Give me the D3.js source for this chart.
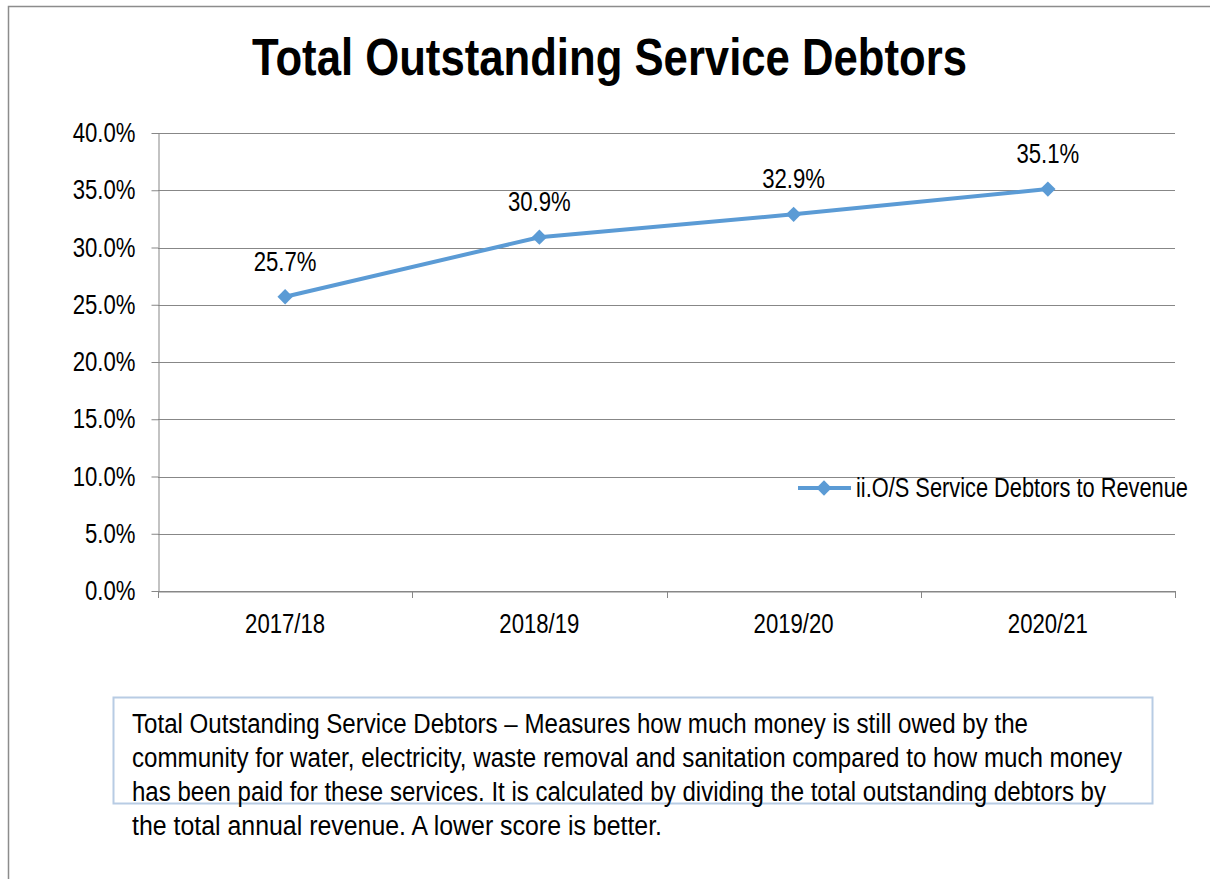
<!DOCTYPE html>
<html>
<head>
<meta charset="utf-8">
<script src="https://cdn.jsdelivr.net/npm/d3@7"></script>
<style>
  html, body { margin: 0; padding: 0; background: #fff; }
  svg { display: block; font-family: "Liberation Sans Narrow", "Arial Narrow", "Liberation Sans", Arial, sans-serif; }
</style>
</head>
<body>
<svg id="chart" width="1210" height="879"></svg>
<script>
// Financial year periods and the ratio of outstanding service debtors to revenue
const categories = ["2017/18", "2018/19", "2019/20", "2020/21"];
const ratioValues = [0.257, 0.309, 0.329, 0.351];
const yTickValues = [0, 0.05, 0.10, 0.15, 0.20, 0.25, 0.30, 0.35, 0.40];
const seriesName = "ii.O/S Service Debtors to Revenue";
const chartTitle = "Total Outstanding Service Debtors";
const noteLines = [
  "Total Outstanding Service Debtors \u2013 Measures how much money is still owed by the",
  "community for water, electricity, waste removal and sanitation compared to how much money",
  "has been paid for these services. It is calculated by dividing the total outstanding debtors by",
  "the total annual revenue. A lower score is better."
];

const svg = d3.select("#chart");
const lineColor = "#5b9bd5";
const gridColor = "#878787";

// Condense text horizontally to a narrow face when no narrow font is installed
const NARROW = 0.82;
function narrow(sel) {
  sel.each(function () {
    const w = this.getComputedTextLength();
    d3.select(this).attr("textLength", w * NARROW).attr("lengthAdjust", "spacingAndGlyphs");
  });
}

// Outer chart frame (top and left edges visible)
svg.append("path")
  .attr("d", "M8.5,879 V6.5 H1210")
  .attr("fill", "none")
  .attr("stroke", "#8c8c8c")
  .attr("stroke-width", 1.5);

// Title
svg.append("text")
  .attr("x", 609.5).attr("y", 75)
  .attr("text-anchor", "middle")
  .attr("font-size", 52).attr("font-weight", "bold")
  .attr("textLength", 715).attr("lengthAdjust", "spacingAndGlyphs")
  .text(chartTitle);

const plot = { left: 158, right: 1175, top: 133, bottom: 591 };

const x = d3.scaleBand().domain(categories).range([plot.left, plot.right]);
const y = d3.scaleLinear().domain([0, 0.40]).range([plot.bottom, plot.top]);

// Horizontal gridlines
svg.append("g")
  .selectAll("line")
  .data(yTickValues)
  .join("line")
  .attr("x1", plot.left).attr("x2", plot.right)
  .attr("y1", d => Math.round(y(d)) + 0.5).attr("y2", d => Math.round(y(d)) + 0.5)
  .attr("stroke", gridColor).attr("stroke-width", 1);

// Y axis
const yAxis = svg.append("g")
  .attr("transform", `translate(${plot.left + 0.5},0)`)
  .call(d3.axisLeft(y).tickValues(yTickValues).tickFormat(d3.format(".1%")).tickSize(7).tickPadding(16).tickSizeOuter(0));
yAxis.select(".domain").attr("stroke", gridColor);
yAxis.selectAll(".tick line").attr("stroke", gridColor);
yAxis.selectAll(".tick text").attr("font-size", 27).attr("fill", "#000").attr("font-family", null).call(narrow);

// X axis: labels at band centres, tick marks at band boundaries
const xAxis = svg.append("g")
  .attr("transform", `translate(0,${plot.bottom + 0.5})`)
  .call(d3.axisBottom(x).tickSize(0).tickPadding(22).tickSizeOuter(0));
xAxis.select(".domain").attr("stroke", gridColor);
xAxis.selectAll(".tick text").attr("font-size", 27).attr("fill", "#000").attr("font-family", null).call(narrow);

const boundaries = categories.map(c => x(c)).concat([x(categories[categories.length - 1]) + x.bandwidth()]);
svg.append("g")
  .selectAll("line")
  .data(boundaries)
  .join("line")
  .attr("x1", d => Math.round(d) + 0.5).attr("x2", d => Math.round(d) + 0.5)
  .attr("y1", plot.bottom).attr("y2", plot.bottom + 7)
  .attr("stroke", gridColor);

// Series line
const points = categories.map((c, i) => ({ cat: c, value: ratioValues[i] }));
const cx = d => x(d.cat) + x.bandwidth() / 2;

svg.append("path")
  .datum(points)
  .attr("fill", "none")
  .attr("stroke", lineColor)
  .attr("stroke-width", 4)
  .attr("stroke-linejoin", "round")
  .attr("d", d3.line().x(cx).y(d => y(d.value)));

const diamond = d3.symbol().type(d3.symbolDiamond2).size(150);

svg.append("g")
  .selectAll("path")
  .data(points)
  .join("path")
  .attr("transform", d => `translate(${cx(d)},${y(d.value)})`)
  .attr("d", diamond)
  .attr("fill", lineColor);

// Value labels
svg.append("g")
  .selectAll("text")
  .data(points)
  .join("text")
  .attr("x", cx)
  .attr("y", d => y(d.value) - 26)
  .attr("text-anchor", "middle")
  .attr("font-size", 27)
  .text(d => d3.format(".1%")(d.value))
  .call(narrow);

// Legend
const legend = svg.append("g").attr("transform", "translate(798,488)");
legend.append("line")
  .attr("x1", 0).attr("x2", 53).attr("y1", 0).attr("y2", 0)
  .attr("stroke", lineColor).attr("stroke-width", 4);
legend.append("path")
  .attr("transform", "translate(26,0)")
  .attr("d", diamond)
  .attr("fill", lineColor);
legend.append("text")
  .attr("x", 58).attr("y", 9)
  .attr("font-size", 27)
  .attr("textLength", 332).attr("lengthAdjust", "spacingAndGlyphs")
  .text(seriesName);

// Description box
svg.append("rect")
  .attr("x", 113.5).attr("y", 697.5)
  .attr("width", 1039).attr("height", 106)
  .attr("fill", "none")
  .attr("stroke", "#b8cce4")
  .attr("stroke-width", 2);

const noteWidths = [896, 990, 974, 530];
svg.append("g")
  .selectAll("text")
  .data(noteLines)
  .join("text")
  .attr("x", 132)
  .attr("y", (d, i) => 733 + i * 34)
  .attr("font-size", 27)
  .attr("textLength", (d, i) => noteWidths[i])
  .attr("lengthAdjust", "spacingAndGlyphs")
  .text(d => d);
</script>
</body>
</html>
